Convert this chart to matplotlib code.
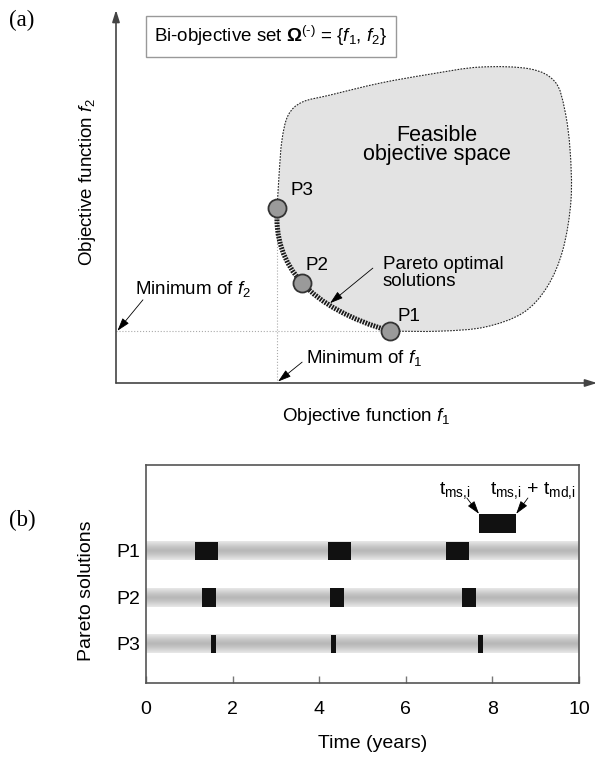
import numpy as np
import matplotlib
matplotlib.use("Agg")
import matplotlib.pyplot as plt
from matplotlib.path import Path
from matplotlib.patches import PathPatch

plt.rcParams['font.family'] = ['Liberation Sans', 'DejaVu Sans']
plt.rcParams['mathtext.fontset'] = 'custom'
plt.rcParams['mathtext.rm'] = 'Liberation Sans'
plt.rcParams['mathtext.it'] = 'Liberation Sans:italic'
plt.rcParams['mathtext.bf'] = 'Liberation Sans:bold'

# ---- panel (a) data: schematic objective space (f1, f2 in arbitrary units 0-10)
pareto_names = ['P1', 'P2', 'P3']
pareto_f1 = [5.70, 3.87, 3.35]
pareto_f2 = [1.39, 2.68, 4.69]

# outline of the feasible region, from P1 round the top back to P3
blob_f1 = [5.70, 6.74, 7.67, 8.46, 8.96, 9.29, 9.46, 9.44, 9.33, 9.13, 8.61,
           7.57, 6.53, 5.49, 4.45, 3.87, 3.58, 3.45, 3.39, 3.35]
blob_f2 = [1.39, 1.39, 1.50, 1.88, 2.57, 3.57, 4.91, 6.25, 7.32, 8.07, 8.42,
           8.47, 8.28, 8.04, 7.72, 7.53, 7.18, 6.51, 5.58, 4.69]

# ---- panel (b) data: maintenance schedules
time_ticks = [0, 2, 4, 6, 8, 10]
rows = [3, 2, 1]
row_labels = ['P1', 'P2', 'P3']
p1_start = [1.13, 4.20, 6.93]
p1_dur = [0.53, 0.53, 0.53]
p2_start = [1.29, 4.25, 7.30]
p2_dur = [0.33, 0.32, 0.32]
p3_start = [1.50, 4.27, 7.67]
p3_dur = [0.12, 0.12, 0.11]
ex_start = 7.69
ex_dur = 0.86


def smooth_verts(x, y):
    # catmull-rom through the points, as cubic bezier segments
    pts = np.column_stack([x, y])
    n = len(pts)
    verts = [pts[0]]
    codes = [Path.MOVETO]
    for i in range(n - 1):
        p0 = pts[i - 1] if i > 0 else pts[i]
        p1 = pts[i]
        p2 = pts[i + 1]
        p3 = pts[i + 2] if i + 2 < n else pts[i + 1]
        verts += [p1 + (p2 - p0) / 6, p2 - (p3 - p1) / 6, p2]
        codes += [Path.CURVE4] * 3
    return verts, codes


fig = plt.figure(figsize=(5.98, 7.57), dpi=100)
W, H = 598.0, 757.0

# ================= (a)
ax = fig.add_axes([116 / W, 1 - 383 / H, 481 / W, 373 / H])
ax.set_xlim(0, 10)
ax.set_ylim(0, 10)
ax.axis('off')

P1 = np.array([pareto_f1[0], pareto_f2[0]])
P2 = np.array([pareto_f1[1], pareto_f2[1]])
P3 = np.array([pareto_f1[2], pareto_f2[2]])
ctrl = 2 * P2 - 0.5 * (P3 + P1)   # quadratic bezier through P2

bv, bc = smooth_verts(blob_f1, blob_f2)
fill_path = Path(bv + [ctrl, P1, P1], bc + [Path.CURVE3, Path.CURVE3, Path.CLOSEPOLY])
ax.add_patch(PathPatch(fill_path, facecolor='#e3e3e3', edgecolor='none', zorder=1))
ax.add_patch(PathPatch(Path(bv, bc), facecolor='none', edgecolor='#222222',
                       lw=0.8, linestyle=(0, (1.5, 1.2)), zorder=2))

# pareto front
front = Path([P3, ctrl, P1], [Path.MOVETO, Path.CURVE3, Path.CURVE3])
ax.add_patch(PathPatch(front, facecolor='none', edgecolor='#1a1a1a', lw=3.6,
                       linestyle=(0, (0.35, 0.22)), capstyle='butt', zorder=3))

# minimum lines
ax.plot([P3[0], P3[0]], [0, P3[1]], color='#aaaaaa', lw=0.8, ls=':', zorder=1)
ax.plot([0, P1[0]], [P1[1], P1[1]], color='#aaaaaa', lw=0.8, ls=':', zorder=1)

ax.plot(pareto_f1, pareto_f2, 'o', ms=13, mfc='#9a9a9a', mec='#333333', mew=1.3, zorder=5)

# axes with arrows
axis_arrow = dict(arrowstyle='-|>,head_length=0.7,head_width=0.22', color='#444444',
                  lw=1.2, shrinkA=0, shrinkB=0)
ax.annotate('', xy=(0, 10), xytext=(0, 0), arrowprops=axis_arrow, annotation_clip=False)
ax.annotate('', xy=(10, 0), xytext=(0, 0), arrowprops=axis_arrow, annotation_clip=False)

fs = 13.5
ax.text(3.62, 5.17, 'P3', fontsize=fs, va='center')
ax.text(3.95, 3.16, 'P2', fontsize=fs, va='center')
ax.text(5.86, 1.77, 'P1', fontsize=fs, va='center')
ax.text(6.67, 6.38, 'Feasible\nobjective space', fontsize=15.5, ha='center', va='center',
        linespacing=0.9)
ax.text(5.55, 2.95, 'Pareto optimal\nsolutions', fontsize=fs, ha='left', va='center',
        linespacing=0.95)
ax.text(0.40, 2.52, r'Minimum of $f_2$', fontsize=fs, ha='left', va='center')
ax.text(3.95, 0.67, r'Minimum of $f_1$', fontsize=fs, ha='left', va='center')

thin = dict(arrowstyle='-|>,head_length=0.8,head_width=0.25', color='black', lw=0.6,
            shrinkA=0, shrinkB=0)
ax.annotate('', xy=(4.45, 2.14), xytext=(5.34, 3.08), arrowprops=thin)
ax.annotate('', xy=(0.03, 1.40), xytext=(0.56, 2.23), arrowprops=thin)
ax.annotate('', xy=(3.37, 0.04), xytext=(3.87, 0.56), arrowprops=thin)

ax.text(3.22, 9.30, 'Bi-objective set $\\mathbf{\\Omega}^{(\u2010)}$ = {$f_1$, $f_2$}',
        fontsize=fs, ha='center', va='center',
        bbox=dict(boxstyle='square,pad=0.45', facecolor='white', edgecolor='#999999', lw=1))

ax.text(5.20, -0.91, r'Objective function $f_1$', fontsize=fs, ha='center', va='center')
ax.text(-0.60, 5.39, r'Objective function $f_2$', fontsize=fs, ha='center', va='center',
        rotation=90)

fig.text(22 / W, 1 - 20 / H, '(a)', fontsize=16.5, family='Liberation Serif',
         ha='center', va='center')
fig.text(22 / W, 1 - 520 / H, '(b)', fontsize=16.5, family='Liberation Serif',
         ha='center', va='center')

# ================= (b)
bx = fig.add_axes([146 / W, 1 - 683 / H, 433 / W, 218 / H])

u = np.linspace(0, 1, 64)
grad = 0.72 + 0.19 * np.abs(2 * u - 1) ** 1.3
for r in rows:
    bx.imshow(grad[:, None], extent=(0, 10, r - 0.2, r + 0.2), aspect='auto', cmap='gray',
              vmin=0, vmax=1, interpolation='bilinear', zorder=1)

for r, st, du in zip(rows, [p1_start, p2_start, p3_start], [p1_dur, p2_dur, p3_dur]):
    bx.barh([r] * len(st), du, left=st, height=0.4, color='#111111', zorder=3)

bx.barh(3.59, ex_dur, left=ex_start, height=0.41, color='#111111', zorder=3)
bx.text(7.14, 4.22, r'$\mathrm{t}_{\mathrm{ms{,}i}}$', fontsize=14, ha='center', va='baseline')
bx.text(8.94, 4.22, r'$\mathrm{t}_{\mathrm{ms{,}i}}$ + $\mathrm{t}_{\mathrm{md{,}i}}$',
        fontsize=14, ha='center', va='baseline')
bx.annotate('', xy=(ex_start, 3.80), xytext=(7.41, 4.14), arrowprops=thin)
bx.annotate('', xy=(ex_start + ex_dur, 3.80), xytext=(8.82, 4.14), arrowprops=thin)

bx.set_xlim(0, 10)
bx.set_ylim(0.16, 4.85)
bx.set_xticks(time_ticks)
bx.set_yticks(rows)
bx.set_yticklabels(row_labels)
bx.tick_params(axis='x', direction='in', length=5, width=1, color='#777777',
               labelsize=14, pad=13)
bx.tick_params(axis='y', length=0, labelsize=14, pad=4)
for s in bx.spines.values():
    s.set_color('#555555')
    s.set_linewidth(1.2)

fig.text(373 / W, 1 - 743 / H, 'Time (years)', fontsize=14, ha='center', va='center')
fig.text(87 / W, 1 - 591 / H, 'Pareto solutions', fontsize=14, ha='center', va='center',
         rotation=90)

fig.savefig('out.png', dpi=100)
